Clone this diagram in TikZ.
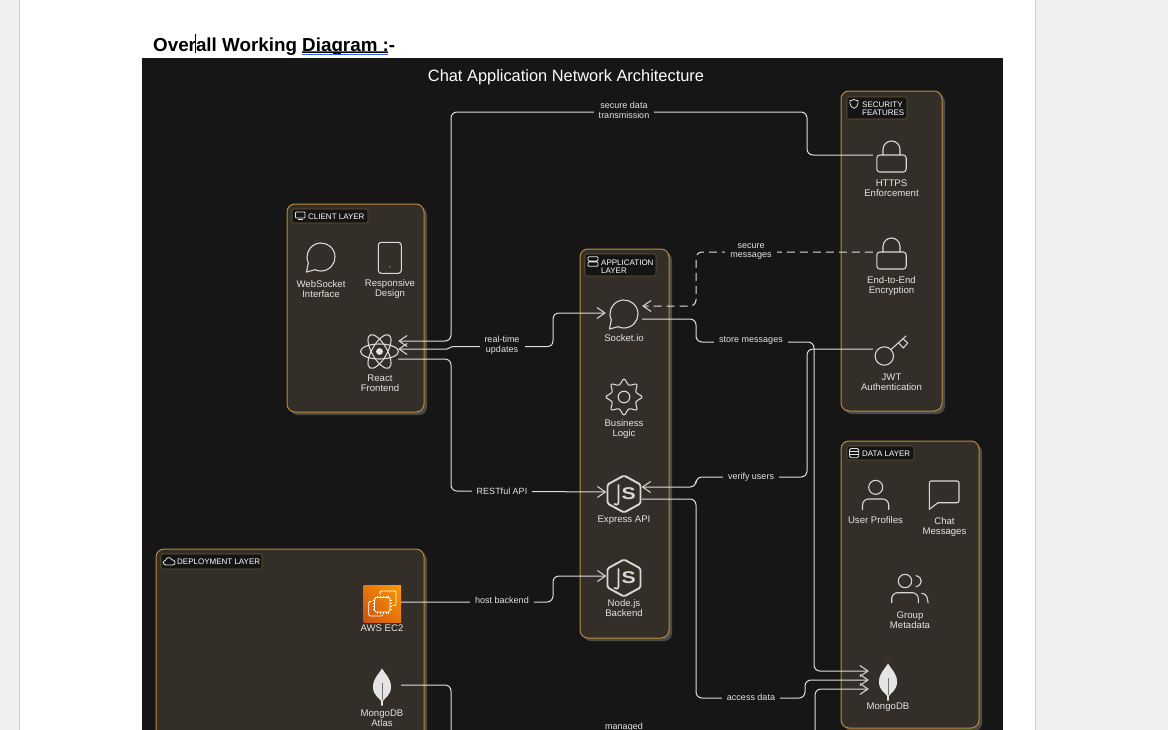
\documentclass[tikz,border=0pt]{standalone}
\usepackage{fontspec}
\setmainfont{Liberation Sans}
\usetikzlibrary{arrows.meta,calc,shadings}
\definecolor{dark}{HTML}{161616}
\definecolor{panel}{HTML}{332F28}
\definecolor{amber}{HTML}{BC8A35}
\definecolor{shadowc}{HTML}{4A4A4A}
\definecolor{ink}{HTML}{E4E4E4}
\definecolor{iconc}{HTML}{D8D8D8}
\definecolor{linec}{HTML}{DEDEDE}
\definecolor{paper}{HTML}{F0F0F0}
\definecolor{pageedge}{HTML}{CDCDCD}
\definecolor{wavy}{HTML}{2F66D8}
\definecolor{badgeedge}{HTML}{6B5730}
\definecolor{awsa}{HTML}{C8530F}
\definecolor{awsb}{HTML}{FF9A00}
\definecolor{awsc}{HTML}{E6760C}
\tikzset{
  panelbox/.style={draw=amber,fill=panel,line width=1pt,rounded corners=8pt},
  panelshadow/.style={fill=shadowc,rounded corners=8pt},
  badgebox/.style={draw=badgeedge,fill=black!92,line width=.6pt,rounded corners=1.5pt},
  badgetxt/.style={anchor=west,inner sep=0pt,text=white,align=left,font=\fontsize{8pt}{8pt}\selectfont},
  lab/.style={inner sep=0pt,text=ink,align=center,font=\fontsize{9.6pt}{10pt}\selectfont},
  conlab/.style={fill=dark,inner xsep=5pt,inner ysep=1pt,text=ink,align=center,font=\fontsize{9pt}{9.5pt}\selectfont},
  port/.style={inner sep=0pt,minimum width=#1,minimum height=20pt},
  con/.style={draw=linec,line width=1pt,rounded corners=6pt},
  >={Straight Barb[length=8pt,width=11pt]},
  ico/.style={draw=iconc,line width=1.1pt,line join=round,line cap=round},
  smallico/.style={draw=ink,line width=.8pt,line join=round},
  bubbleicon/.pic={
    \draw[ico] (155:14) arc[start angle=155,end angle=475,radius=14] -- (-14.5,15) -- cycle;
  },
  lockicon/.pic={
    \draw[ico,rounded corners=3pt] (-14.7,0) rectangle (14.7,17);
    \draw[ico] (-8.5,0) -- (-8.5,-5.5) arc[start angle=180,end angle=360,radius=8.5] -- (8.5,0);
  },
  jsicon/.pic={
    \draw[ico,line width=1.9pt,rounded corners=1.5pt] (0,-18.5) -- (16.5,-9.5) -- (16.5,9.5) -- (0,18.5) -- (-16.5,9.5) -- (-16.5,-9.5) -- cycle;
    \draw[ico,line width=1.7pt] (-5.5,-9) -- (-5.5,8) .. controls (-5.5,11) and (-8,11.5) .. (-9.5,10);
    \node[inner sep=0pt,text=iconc,xscale=1.25,transform shape,font=\bfseries\fontsize{17pt}{17pt}\selectfont] (-s) at (4.7,0) {S};
  },
  leaficon/.pic={
    \fill[ink] (0,-18.5) .. controls (-3,-13) and (-9,-9) .. (-9,0) .. controls (-9,8) and (-3,11) .. (-.8,14) -- (-.8,18.5) -- (.8,18.5) -- (.8,14) .. controls (3,11) and (9,8) .. (9,0) .. controls (9,-9) and (3,-13) .. (0,-18.5) -- cycle;
    \draw[black!55,line width=.7pt] (0,-4) -- (0,13);
  },
}
\newcommand{\panelat}[4]{%
  \fill[panelshadow] (#1+3,#2+3) rectangle (#3+3,#4+3);
  \draw[panelbox] (#1,#2) rectangle (#3,#4);}
\begin{document}
\begin{tikzpicture}[x=1pt,y=-1pt]
\useasboundingbox (0,0) rectangle (1168,729);
\clip (0,0) rectangle (1168,729);
% page
\fill[paper] (0,-5) rectangle (1168,745);
\fill[white] (20,-5) rectangle (1035,745);
\draw[pageedge,line width=.8pt] (19.5,-5) -- (19.5,745) (1035.5,-5) -- (1035.5,745);
% heading
\node[anchor=base west,inner sep=0pt,text=black,font=\bfseries\fontsize{18.8pt}{20pt}\selectfont] (heading) at (153,51) {Overall Working Diagram :-};
\draw[black,line width=.9pt] (195.5,34) -- (195.5,53);
\draw[wavy,line width=1pt] (302,51.2) -- (388,51.2) (302,54) -- (388,54);
\draw[black,line width=1.1pt] (302,52.5) -- (388,52.5);
% canvas
\fill[dark] (142,58) rectangle (1003,745);
\node[inner sep=0pt,text=white,font=\fontsize{16.4pt}{16pt}\selectfont] (title) at (566,77) {Chat Application Network Architecture};
% panels
\panelat{287}{204}{424}{412}
\panelat{580}{249}{669}{638}
\panelat{841}{91}{942}{411}
\panelat{841}{441}{979}{728}
\panelat{156}{549}{424}{760}
% badges
\draw[badgebox] (292,209) rectangle (368,223);
\node[badgetxt] (tClient) at (308,216.7) {CLIENT LAYER};
\draw[smallico,rounded corners=.8pt] (295.5,212) rectangle (305,218);
\draw[smallico] (298,219.6) -- (302.5,219.6);
\draw[badgebox] (585,254) rectangle (656,276);
\node[badgetxt] (tApp) at (601,266.2) {APPLICATION\\LAYER};
\draw[smallico,rounded corners=1pt] (588,256.7) rectangle (598,261) (588,261.9) rectangle (598,266.2);
\draw[badgebox] (847,97) rectangle (907,119);
\node[badgetxt] (tSec) at (862,108.7) {SECURITY\\FEATURES};
\draw[smallico] (850,100.6) .. controls (852,100.6) and (853,100) .. (854,99.4) .. controls (855,100) and (856,100.6) .. (858,100.6) -- (858,103.5) .. controls (858,106) and (856,107.4) .. (854,108.4) .. controls (852,107.4) and (850,106) .. (850,103.5) -- cycle;
\draw[badgebox] (847,446) rectangle (914,460);
\node[badgetxt] (tData) at (862,453.7) {DATA LAYER};
\draw[smallico,rounded corners=1.5pt] (849.5,448.5) rectangle (858.7,457.7);
\draw[smallico] (849.5,451.5) -- (858.7,451.5) (849.5,454.6) -- (858.7,454.6);
\draw[badgebox] (161,554) rectangle (262,569);
\node[badgetxt] (tDep) at (177,561.8) {DEPLOYMENT LAYER};
\draw[smallico] (166,565) .. controls (162.5,565) and (162.5,560.6) .. (165.5,560.4) .. controls (166,556.8) and (171,556.8) .. (172,559.8) .. controls (175.5,559.6) and (176.5,565) .. (172.5,565) -- cycle;
% client icons
\pic at (321,257) {bubbleicon};
\draw[ico,rounded corners=3pt] (378.3,242.3) rectangle (401.3,273.3);
\fill[ink] (389.8,266.8) circle[radius=.6];
\foreach \a in {0,60,120}{\draw[ico] (379.5,351.5) ellipse[x radius=19,y radius=7.5,rotate=\a];}
\fill[ink] (379.5,351.5) circle[radius=3.4];
% application icons
\pic at (624,314) {bubbleicon};
\draw[ico] plot[smooth cycle,tension=.6] coordinates {
 (642,397) (636.0,392.0) (636.7,384.3) (629.0,385.0) (624,379) (619.0,385.0) (611.3,384.3) (612.0,392.0)
 (606,397) (612.0,402.0) (611.3,409.7) (619.0,409.0) (624,415) (629.0,409.0) (636.7,409.7) (636.0,402.0)};
\draw[ico] (624,397) circle[radius=5.8];
\pic (jsE) at (624,494) {jsicon};
\pic (jsN) at (624,578) {jsicon};
% security icons
\pic at (891.5,155) {lockicon};
\pic at (891.5,252) {lockicon};
\draw[ico] (884.3,356) circle[radius=9.2];
\draw[ico] (891,349.5) -- (906,336);
\draw[ico] (898.7,343) -- (903.3,348) -- (907.7,343) -- (903.3,339);
% data icons
\draw[ico] (875.7,487.3) circle[radius=7];
\draw[ico,rounded corners=6pt] (862.5,509.5) -- (862.5,499) -- (888.7,499) -- (888.7,509.5);
\draw[ico,rounded corners=2pt] (938,502.7) -- (959,502.7) -- (959,481) -- (929.3,481) -- (929.3,509.3);
\draw[ico] (929.3,509.3) -- (938,502.7);
\draw[ico] (905,581) circle[radius=6.7];
\draw[ico] (916,575.7) .. controls (923,577) and (923,585) .. (916,586.7);
\draw[ico,rounded corners=6pt] (891.7,602.7) -- (891.7,592.7) -- (918.3,592.7) -- (918.3,602.7);
\draw[ico] (921.7,593.3) .. controls (925.5,593.5) and (928,597) .. (928,602.7);
\pic at (888,682) {leaficon};
% deployment icons
\shade[lower left=awsa,upper right=awsb,upper left=awsc,lower right=awsc] (363.5,585.5) rectangle (401,622);
\draw[white,line width=.9pt,rounded corners=1.5pt] (374.5,597.5) rectangle (390,612);
\foreach \p in {377,380,383,386,388.5}{\draw[white,line width=.6pt] (\p,595.5) -- (\p,597.5) (\p,612) -- (\p,614);}
\foreach \p in {600,603,606,609}{\draw[white,line width=.6pt] (372.5,\p) -- (374.5,\p) (390,\p) -- (392,\p);}
\draw[white,line width=.8pt,rounded corners=1.2pt] (380,594.5) -- (380,591) -- (396,591) -- (396,605.5) -- (392.5,605.5);
\draw[white,line width=.8pt,rounded corners=1.2pt] (372,601.5) -- (368.7,601.5) -- (368.7,616) -- (383,616) -- (383,614.5);
\pic at (382,687) {leaficon};
% port nodes
\node[port=36pt] (react) at (380,351) {};
\node[port=36pt] (socket) at (624,314) {};
\node[port=35pt] (express) at (624,494) {};
\node[port=35pt] (nodejs) at (624,578) {};
\node[port=37pt] (https) at (891.5,155) {};
\node[port=37pt] (e2e) at (891.5,252) {};
\node[port=37pt] (jwt) at (891.5,349) {};
\node[port=38pt] (mongo) at (888,680) {};
\node[port=38pt] (aws) at (382,602) {};
\node[port=38pt] (atlas) at (382,685) {};
% connectors
\draw[con,->] (https.west) -- (807,155) -- (807,112) -- (451,112) -- (451,341) -- ([yshift=10pt]react.east);
\draw[con,<->,rounded corners=0pt] ([yshift=2pt]react.east) -- (447,349) .. controls (450,349) and (449,346.7) .. (453,346.7) -- (545,346.7) .. controls (551,346.7) and (553,345) .. (553,340) -- (553,320) .. controls (553,315) and (555,313) .. (560,313) -- ([yshift=1pt]socket.west);
\draw[con,->] ([yshift=-8pt]react.east) -- (451,359) -- (451,491) -- ([yshift=2pt]express.west);
\draw[con,->,dashed,dash pattern=on 8pt off 5pt] (e2e.west) -- (696,252) -- (696,306) -- ([yshift=8pt]socket.east);
\draw[con,->] ([yshift=-5pt]socket.east) -- (696,319) -- (696,342) -- (814,342) -- (814,671) -- ([yshift=9pt]mongo.west);
\draw[con,->] (jwt.west) -- (807,349) -- (807,477) -- (696,477) -- (696,487) -- ([yshift=7pt]express.east);
\draw[con,->] ([yshift=-5pt]express.east) -- (696,499) -- (696,698) -- (805,698) -- (805,680) -- (mongo.west);
\draw[con,->] (aws.east) -- (553,602) -- (553,576) -- ([yshift=2pt]nodejs.west);
\draw[con,->] (atlas.east) -- (451,685) -- (451,745) -- (815,745) -- (815,689) -- ([yshift=-9pt]mongo.west);
% connector labels
\node[conlab] (lSecure) at (624,110.5) {secure data\\transmission};
\node[conlab] (lRealtime) at (502,345) {real-time\\updates};
\node[conlab] (lRest) at (502,491) {RESTful API};
\node[conlab] (lMsgs) at (751,251.5) {secure\\messages};
\node[conlab] (lStore) at (751,341) {store messages};
\node[conlab] (lVerify) at (751,477) {verify users};
\node[conlab] (lAccess) at (751,697) {access data};
\node[conlab] (lHost) at (502,600) {host backend};
\node[conlab] (lManaged) at (624,727) {managed};
% icon labels
\node[lab] (a1) at (321,289.3) {WebSocket\\Interface};
\node[lab] (a2) at (390,289.3) {Responsive\\Design};
\node[lab] (a3) at (380,383) {React\\Frontend};
\node[lab] (b1) at (624,338.5) {Socket.io};
\node[lab] (b2) at (624,429.3) {Business\\Logic};
\node[lab] (b3) at (624,520) {Express API};
\node[lab] (b4) at (624,608.5) {Node.js\\Backend};
\node[lab] (c1) at (891.5,188.3) {HTTPS\\Enforcement};
\node[lab] (c2) at (891.5,286) {End-to-End\\Encryption};
\node[lab] (c3) at (891.5,382.5) {JWT\\Authentication};
\node[lab] (d1) at (875.5,520) {User Profiles};
\node[lab] (d2) at (944.5,527) {Chat\\Messages};
\node[lab] (d3) at (910,620) {Group\\Metadata};
\node[lab] (d4) at (888,707.3) {MongoDB};
\node[lab] (e1) at (382,628) {AWS EC2};
\node[lab] (e2) at (382,718.5) {MongoDB\\Atlas};
\end{tikzpicture}
\end{document}
